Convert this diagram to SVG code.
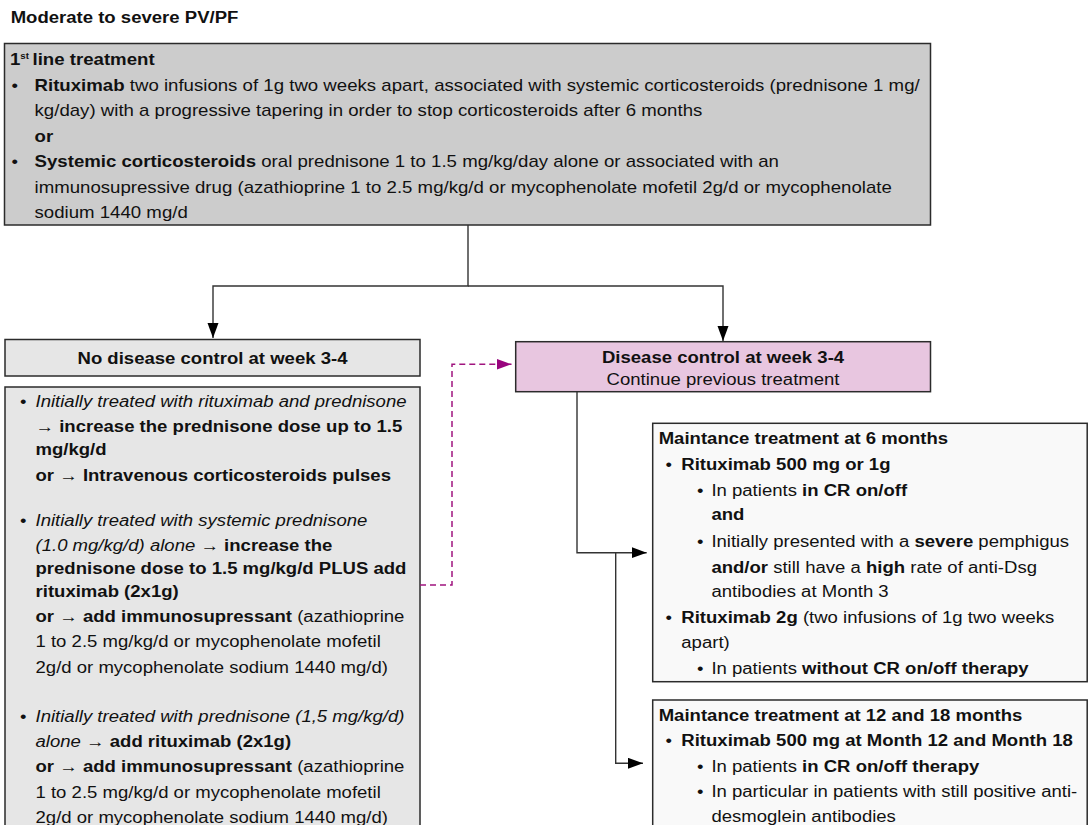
<svg xmlns="http://www.w3.org/2000/svg" width="1089" height="825" viewBox="0 0 1089 825">
<defs>
<style>
.t{font-family:"Liberation Sans",Arial,Helvetica,sans-serif;font-size:16.4px;fill:#111}
.b{font-weight:bold}
.i{font-style:italic}
.box{stroke:#2b2b2b;stroke-width:1.5}
.con{fill:none;stroke:#333;stroke-width:1.4}
.dash{fill:none;stroke:#a0147f;stroke-width:1.5;stroke-dasharray:6 4}
</style>
<marker id="ah" markerUnits="userSpaceOnUse" markerWidth="16" markerHeight="12" refX="15" refY="5.5" orient="auto">
<path d="M0,0 L15,5.5 L0,11 z" fill="#000"/>
</marker>
<marker id="ahm" markerUnits="userSpaceOnUse" markerWidth="16" markerHeight="12" refX="15" refY="5.5" orient="auto">
<path d="M0,0 L15,5.5 L0,11 z" fill="#99047e"/>
</marker>
</defs>
<rect width="1089" height="825" fill="#fff"/>

<g id="title">
<text class="t b" transform="scale(1.131,1)" x="9.4" y="23.5">Moderate to severe PV/PF</text>
</g>

<g id="first-line">
<rect class="box" x="4.5" y="43.5" width="926" height="181.5" fill="#cccccc"/>
<g transform="scale(1.136,1)">
<text class="t b" x="8.8" y="65.5">1<tspan font-size="8.5" dy="-6.5">st</tspan><tspan x="28.6" dy="6.5">line treatment</tspan></text>
<text class="t" x="10.2" y="91">•</text>
<text class="t" x="30.4" y="91"><tspan class="b">Rituximab</tspan> two infusions of 1g two weeks apart, associated with systemic corticosteroids (prednisone 1 mg/</text>
<text class="t" x="30.4" y="116.5">kg/day) with a progressive tapering in order to stop corticosteroids after 6 months</text>
<text class="t b" x="30.4" y="142">or</text>
<text class="t" x="10.2" y="167.5">•</text>
<text class="t" x="30.4" y="167.5"><tspan class="b">Systemic corticosteroids</tspan> oral prednisone 1 to 1.5 mg/kg/day alone or associated with an</text>
<text class="t" x="30.4" y="193">immunosupressive drug (azathioprine 1 to 2.5 mg/kg/d or mycophenolate mofetil 2g/d or mycophenolate</text>
<text class="t" x="30.4" y="218.5">sodium 1440 mg/d</text>
</g>
</g>

<g id="no-control">
<rect class="box" x="5" y="339.5" width="415" height="36.5" fill="#e6e6e6"/>
<text class="t b" transform="scale(1.131,1)" x="187.9" y="364" text-anchor="middle">No disease control at week 3-4</text>
</g>

<g id="no-control-options">
<rect class="box" x="5" y="387" width="415" height="450" fill="#e6e6e6"/>
<g transform="scale(1.131,1)">
<text class="t" x="17.7" y="407">•</text>
<text class="t i" x="31.4" y="407">Initially treated with rituximab and prednisone</text>
<text class="t b" x="31.4" y="432">→ increase the prednisone dose up to 1.5</text>
<text class="t b" x="31.4" y="455">mg/kg/d</text>
<text class="t b" x="31.4" y="481">or → Intravenous corticosteroids pulses</text>

<text class="t" x="17.7" y="526">•</text>
<text class="t i" x="31.4" y="526">Initially treated with systemic prednisone</text>
<text class="t" x="31.4" y="551.5"><tspan class="i">(1.0 mg/kg/d) alone</tspan> → <tspan class="b">increase the</tspan></text>
<text class="t b" x="31.4" y="574">prednisone dose to 1.5 mg/kg/d PLUS add</text>
<text class="t b" x="31.4" y="597">rituximab (2x1g)</text>
<text class="t" x="31.4" y="622"><tspan class="b">or → add immunosupressant</tspan> (azathioprine</text>
<text class="t" x="31.4" y="647">1 to 2.5 mg/kg/d or mycophenolate mofetil</text>
<text class="t" x="31.4" y="673">2g/d or mycophenolate sodium 1440 mg/d)</text>

<text class="t" x="17.7" y="722">•</text>
<text class="t i" x="31.4" y="722">Initially treated with prednisone (1,5 mg/kg/d)</text>
<text class="t" x="31.4" y="747"><tspan class="i">alone</tspan> → <tspan class="b">add rituximab (2x1g)</tspan></text>
<text class="t" x="31.4" y="772.5"><tspan class="b">or → add immunosupressant</tspan> (azathioprine</text>
<text class="t" x="31.4" y="798">1 to 2.5 mg/kg/d or mycophenolate mofetil</text>
<text class="t" x="31.4" y="823">2g/d or mycophenolate sodium 1440 mg/d)</text>
</g>
</g>

<g id="control">
<rect class="box" x="515.7" y="341.7" width="414.8" height="50" fill="#e8c6e0"/>
<g transform="scale(1.131,1)">
<text class="t b" x="639.3" y="362.7" text-anchor="middle">Disease control at week 3-4</text>
<text class="t" x="639.3" y="385" text-anchor="middle">Continue previous treatment</text>
</g>
</g>

<g id="maint-6">
<rect class="box" x="652.7" y="423.3" width="434.5" height="258.4" fill="#f9f9f9"/>
<g transform="scale(1.131,1)">
<text class="t b" x="582.4" y="444.3">Maintance treatment at 6 months</text>
<text class="t" x="588.4" y="470">•</text>
<text class="t b" x="602.4" y="470">Rituximab 500 mg or 1g</text>
<text class="t" x="616.3" y="495.7">•</text>
<text class="t" x="629" y="495.7">In patients <tspan class="b">in CR on/off</tspan></text>
<text class="t b" x="629" y="520.5">and</text>
<text class="t" x="616.3" y="546.7">•</text>
<text class="t" x="629" y="546.7">Initially presented with a <tspan class="b">severe</tspan> pemphigus</text>
<text class="t" x="629" y="572.7"><tspan class="b">and/or</tspan> still have a <tspan class="b">high</tspan> rate of anti-Dsg</text>
<text class="t" x="629" y="597.5">antibodies at Month 3</text>
<text class="t" x="588.4" y="623.3">•</text>
<text class="t" x="602.4" y="623.3"><tspan class="b">Rituximab 2g</tspan> (two infusions of 1g two weeks</text>
<text class="t" x="602.4" y="648.3">apart)</text>
<text class="t" x="616.3" y="674">•</text>
<text class="t" x="629" y="674">In patients <tspan class="b">without CR on/off therapy</tspan></text>
</g>
</g>

<g id="maint-12-18">
<rect class="box" x="652.7" y="700" width="434.5" height="140" fill="#f9f9f9"/>
<g transform="scale(1.131,1)">
<text class="t b" x="582.4" y="720.7">Maintance treatment at 12 and 18 months</text>
<text class="t" x="588.4" y="746">•</text>
<text class="t b" x="602.4" y="746">Rituximab 500 mg at Month 12 and Month 18</text>
<text class="t" x="616.3" y="771.7">•</text>
<text class="t" x="629" y="771.7">In patients <tspan class="b">in CR on/off therapy</tspan></text>
<text class="t" x="616.3" y="796.7">•</text>
<text class="t" x="629" y="796.7">In particular in patients with still positive anti-</text>
<text class="t" x="629" y="821.7">desmoglein antibodies</text>
</g>
</g>

<g id="connectors">
<path class="con" d="M468,225 V286 H213 V338" marker-end="url(#ah)"/>
<path class="con" d="M468,286 H723 V341" marker-end="url(#ah)"/>
<path class="dash" d="M420,585 H452 V364.3 H511.5" marker-end="url(#ahm)"/>
<path class="con" d="M577,392 V552.7 H646.7" marker-end="url(#ah)"/>
<path class="con" d="M615.7,552.7 V763.3 H643" marker-end="url(#ah)"/>
</g>
</svg>
